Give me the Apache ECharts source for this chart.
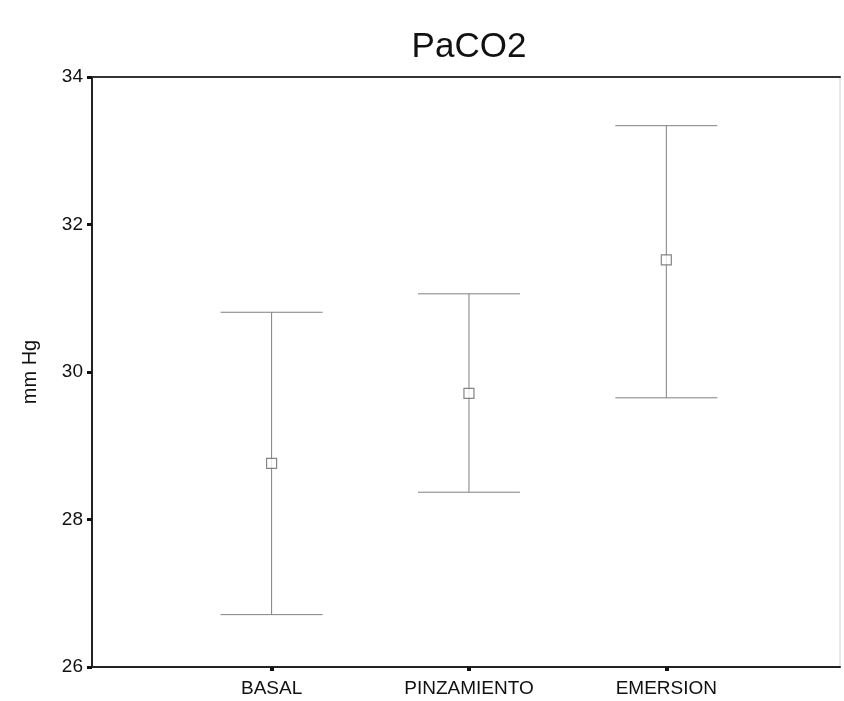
<!DOCTYPE html>
<html>
<head>
<meta charset="utf-8">
<script src="https://cdn.jsdelivr.net/npm/echarts@6/dist/echarts.min.js"></script>
<style>html,body{margin:0;padding:0;background:#fff;}#c{width:844px;height:701px;}</style>
</head>
<body>
<div id="c"></div>
<script>
const categories = ['BASAL', 'PINZAMIENTO', 'EMERSION'];
const positions = [1, 2, 3];
const means = [28.76, 29.71, 31.52];
const lowers = [26.71, 28.37, 29.65];
const uppers = [30.81, 31.06, 33.34];
const yTicks = [26, 28, 30, 32, 34];

const chart = echarts.init(document.getElementById('c'));
const font = 'Liberation Sans, Arial, sans-serif';
const barData = positions.map((p, i) => [p, lowers[i], uppers[i]]);
const meanData = positions.map((p, i) => [p, means[i]]);

chart.setOption({
  animation: false,
  backgroundColor: '#fff',
  title: {
    text: 'PaCO2', left: 464, top: 25, textAlign: 'center',
    textStyle: { fontFamily: font, fontSize: 35, fontWeight: 'normal', color: '#111' }
  },
  grid: { left: 92, right: 4, top: 77, bottom: 34, show: true, borderColor: '#d0d0d0', borderWidth: 1 },
  xAxis: [{
    type: 'value', min: 0.09, max: 3.88,
    splitLine: { show: false },
    axisLine: { show: true, onZero: false, lineStyle: { color: '#222', width: 2 } },
    axisTick: { show: true, customValues: positions, length: 4, lineStyle: { color: '#111', width: 4 } },
    axisLabel: {
      customValues: positions, margin: 12,
      formatter: v => categories[Math.round(v) - 1] || '',
      fontFamily: font, fontSize: 19, color: '#111'
    }
  }, {
    type: 'value', position: 'top', min: 0.09, max: 3.88,
    splitLine: { show: false },
    axisLine: { show: true, onZero: false, lineStyle: { color: '#333', width: 2 } },
    axisTick: { show: false }, axisLabel: { show: false }
  }],
  yAxis: {
    type: 'value', min: 26, max: 34, interval: 2,
    name: 'mm Hg', nameLocation: 'middle', nameRotate: 90, nameGap: 52,
    nameTextStyle: { fontFamily: font, fontSize: 20, color: '#111' },
    splitLine: { show: false },
    axisLine: { show: true, lineStyle: { color: '#222', width: 2 } },
    axisTick: { show: true, length: 5, lineStyle: { color: '#111', width: 3 } },
    axisLabel: { fontFamily: font, fontSize: 19, color: '#111', margin: 9 }
  },
  series: [{
    type: 'custom',
    data: barData,
    renderItem: (params, api) => {
      const x = api.value(0);
      const lo = api.coord([x, api.value(1)]);
      const hi = api.coord([x, api.value(2)]);
      const half = 51;
      const style = { stroke: '#808080', lineWidth: 1 };
      return {
        type: 'group',
        children: [
          { type: 'line', shape: { x1: lo[0], y1: lo[1], x2: hi[0], y2: hi[1] }, style },
          { type: 'line', shape: { x1: hi[0] - half, y1: hi[1], x2: hi[0] + half, y2: hi[1] }, style },
          { type: 'line', shape: { x1: lo[0] - half, y1: lo[1], x2: lo[0] + half, y2: lo[1] }, style }
        ]
      };
    },
    z: 2
  }, {
    type: 'scatter',
    data: meanData,
    symbol: 'rect', symbolSize: 10,
    itemStyle: { color: '#fff', borderColor: '#666', borderWidth: 1.2 },
    z: 3
  }]
});
</script>
</body>
</html>
